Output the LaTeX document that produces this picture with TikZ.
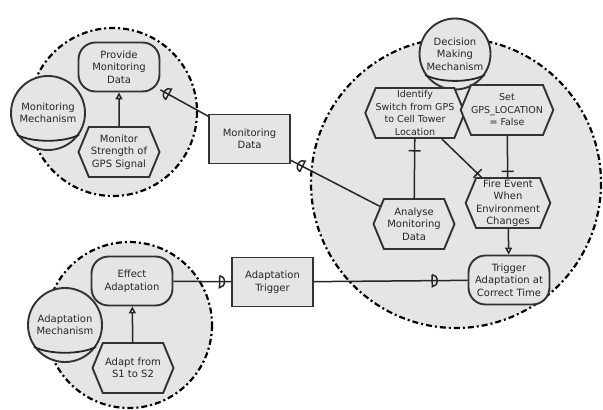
\documentclass[tikz,border=0pt]{standalone}
\usepackage{fontspec}
\setmainfont{DejaVu Sans}
\usetikzlibrary{shapes.symbols,arrows.meta}

\tikzset{
    goal/.style={draw=black!80, line width=1.9pt, fill=black!10, rounded corners=17pt,
        minimum width=81pt, minimum height=49pt, align=center, inner sep=1pt,
        font=\fontsize{10}{12.5}\selectfont, text=black!85},
    task/.style={draw=black!80, line width=1.9pt, fill=black!10, shape=signal,
        signal to=east and west, signal pointer angle=135,
        minimum width=81pt, minimum height=50pt, align=center, inner sep=0pt,
        font=\fontsize{10}{12.5}\selectfont, text=black!85},
    resource/.style={draw=black!80, line width=1.9pt, fill=black!10, rectangle,
        minimum width=81pt, minimum height=49pt, align=center,
        font=\fontsize{10}{12.5}\selectfont, text=black!85},
    actor/.style={draw=black!80, line width=1.9pt, fill=black!10, circle,
        minimum size=74pt, inner sep=0pt, align=center,
        font=\fontsize{10}{12.5}\selectfont, text=black!85},
    boundary/.style={draw=black, line width=2.2pt, fill=black!10,
        dash pattern=on 6pt off 3pt on 2pt off 3pt},
    link/.style={draw=black!85, line width=1.5pt},
    meansend/.style={link, -{Triangle[open, length=7pt, width=7pt, fill=white]}},
    depmark/.pic={\draw[link] (0,-6) -- (0,6) arc[start angle=90, end angle=-90, x radius=5, y radius=6];},
    barmark/.pic={\draw[link] (0,-6) -- (0,6);}
}

\begin{document}
\begin{tikzpicture}[x=1pt, y=-1pt]
    \useasboundingbox (0,0) rectangle (603,410);
    % boundaries
    \draw[boundary] (113,112) circle (84);
    \draw[boundary] (456,183) circle (145);
    \draw[boundary] (129,325) circle (83);

    % actors
    \node[actor] (monact) at (48,113) {Monitoring\\Mechanism};
    \node[actor, minimum size=71pt] (decact) at (455,54) {Decision\\Making\\Mechanism};
    \node[actor] (adpact) at (65,325) {Adaptation\\Mechanism};
    \draw[link, line width=1.8pt] (monact.215) .. controls +(15,8) and +(-15,8) .. (monact.325);
    \draw[link, line width=1.8pt] (decact.215) .. controls +(15,8) and +(-15,8) .. (decact.325);
    \draw[link, line width=1.8pt] (adpact.215) .. controls +(15,8) and +(-15,8) .. (adpact.325);

    % monitoring
    \node[goal] (prov) at (119,67) {Provide\\Monitoring\\Data};
    \node[task] (mon) at (119,152) {Monitor\\Strength of\\GPS Signal};
    \node[resource] (mdata) at (249.5,139) {Monitoring\\Data};

    % decision making
    \node[task, font=\fontsize{9.5}{12.5}\selectfont] (ident) at (415,113) {Identify\\Switch from GPS\\to Cell Tower\\Location};
    \node[task, font=\fontsize{9.5}{12.5}\selectfont] (setgps) at (507,110) {Set\\GPS\_LOCATION\\= False};
    \node[task] (fire) at (508,203) {Fire Event\\When\\Environment\\Changes};
    \node[task] (analyse) at (414,224) {Analyse\\Monitoring\\Data};
    \node[goal] (trigger) at (509,280) {Trigger\\Adaptation at\\Correct Time};

    % adaptation
    \node[goal] (effect) at (132,281) {Effect\\Adaptation};
    \node[task] (adapt) at (133,368) {Adapt from\\S1 to S2};
    \node[resource] (atrig) at (272.5,282) {Adaptation\\Trigger};

    % links
    \draw[meansend] (mon) -- (prov);
    \draw[meansend] (adapt) -- (effect);
    \draw[meansend] (fire) -- (trigger);
    \draw[link] (ident) -- (analyse) pic[pos=0.2, sloped, allow upside down] {barmark};
    \draw[link] (ident) -- (fire) pic[pos=0.9, sloped, allow upside down] {barmark};
    \draw[link] (setgps) -- (fire) pic[pos=0.86, sloped, allow upside down] {barmark};
    \draw[link] (mdata) -- (prov) pic[pos=0.83, sloped, allow upside down] {depmark};
    \draw[link] (analyse) -- (mdata) pic[pos=0.87, sloped, allow upside down] {depmark};
    \draw[link] (effect) -- (atrig) pic[pos=0.8, sloped, allow upside down] {depmark};
    \draw[link] (atrig) -- (trigger) pic[pos=0.77, sloped, allow upside down] {depmark};
\end{tikzpicture}
\end{document}
